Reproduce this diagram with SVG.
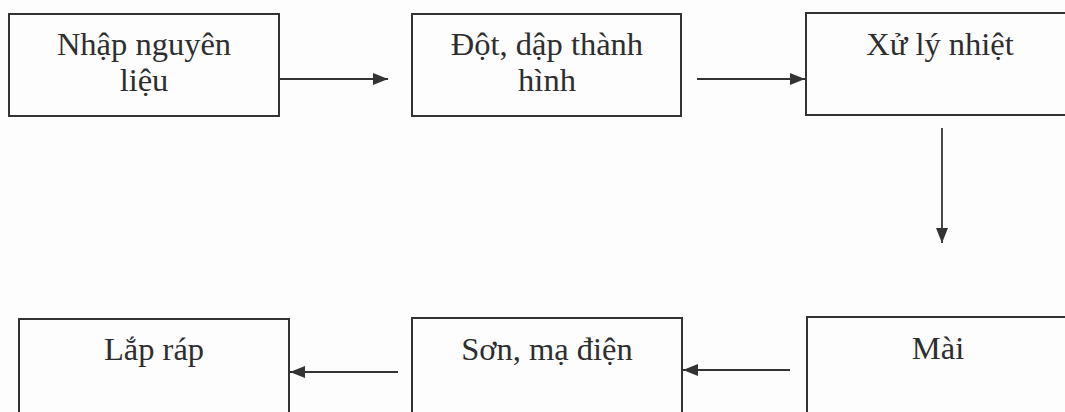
<svg xmlns="http://www.w3.org/2000/svg" width="1065" height="412" viewBox="0 0 1065 412">
  <style>
    .box { fill: none; stroke: #333; stroke-width: 2; }
    .lbl { font-family: "Liberation Serif", "Times New Roman", serif; font-size: 32.5px; fill: #2e2e2e; text-anchor: middle; }
    .conn { stroke: #333; stroke-width: 1.8; fill: none; marker-end: url(#arrow); }
  </style>
  <defs>
    <marker id="arrow" viewBox="0 0 15 12" refX="15" refY="6" markerWidth="15" markerHeight="12" markerUnits="userSpaceOnUse" orient="auto">
      <path d="M0,0 L15,6 L0,12 Z" fill="#333"/>
    </marker>
  </defs>
  <rect width="1065" height="412" fill="#fdfdfd"/>

  <g id="node-nhap-nguyen-lieu">
    <rect class="box" x="9" y="14" width="270" height="102"/>
    <text class="lbl" x="144" y="55">Nhập nguyên</text>
    <text class="lbl" x="144" y="91">liệu</text>
  </g>
  <g id="node-dot-dap">
    <rect class="box" x="412" y="14" width="269" height="102"/>
    <text class="lbl" x="547" y="55">Đột, dập thành</text>
    <text class="lbl" x="547" y="91">hình</text>
  </g>
  <g id="node-xu-ly-nhiet">
    <rect class="box" x="806" y="13" width="270" height="102"/>
    <text class="lbl" x="940" y="55">Xử lý nhiệt</text>
  </g>
  <g id="node-lap-rap">
    <rect class="box" x="19" y="319" width="270" height="102"/>
    <text class="lbl" x="154" y="360">Lắp ráp</text>
  </g>
  <g id="node-son-ma-dien">
    <rect class="box" x="412" y="318" width="270" height="102"/>
    <text class="lbl" x="547" y="360">Sơn, mạ điện</text>
  </g>
  <g id="node-mai">
    <rect class="box" x="807" y="317" width="270" height="102"/>
    <text class="lbl" x="938" y="359">Mài</text>
  </g>

  <g id="connectors">
    <line class="conn" x1="280" y1="79" x2="388" y2="79"/>
    <line class="conn" x1="697" y1="79" x2="805" y2="79"/>
    <line class="conn" x1="942" y1="128" x2="942" y2="243"/>
    <line class="conn" x1="790" y1="370" x2="683" y2="370"/>
    <line class="conn" x1="398" y1="372" x2="290" y2="372"/>
  </g>
</svg>
